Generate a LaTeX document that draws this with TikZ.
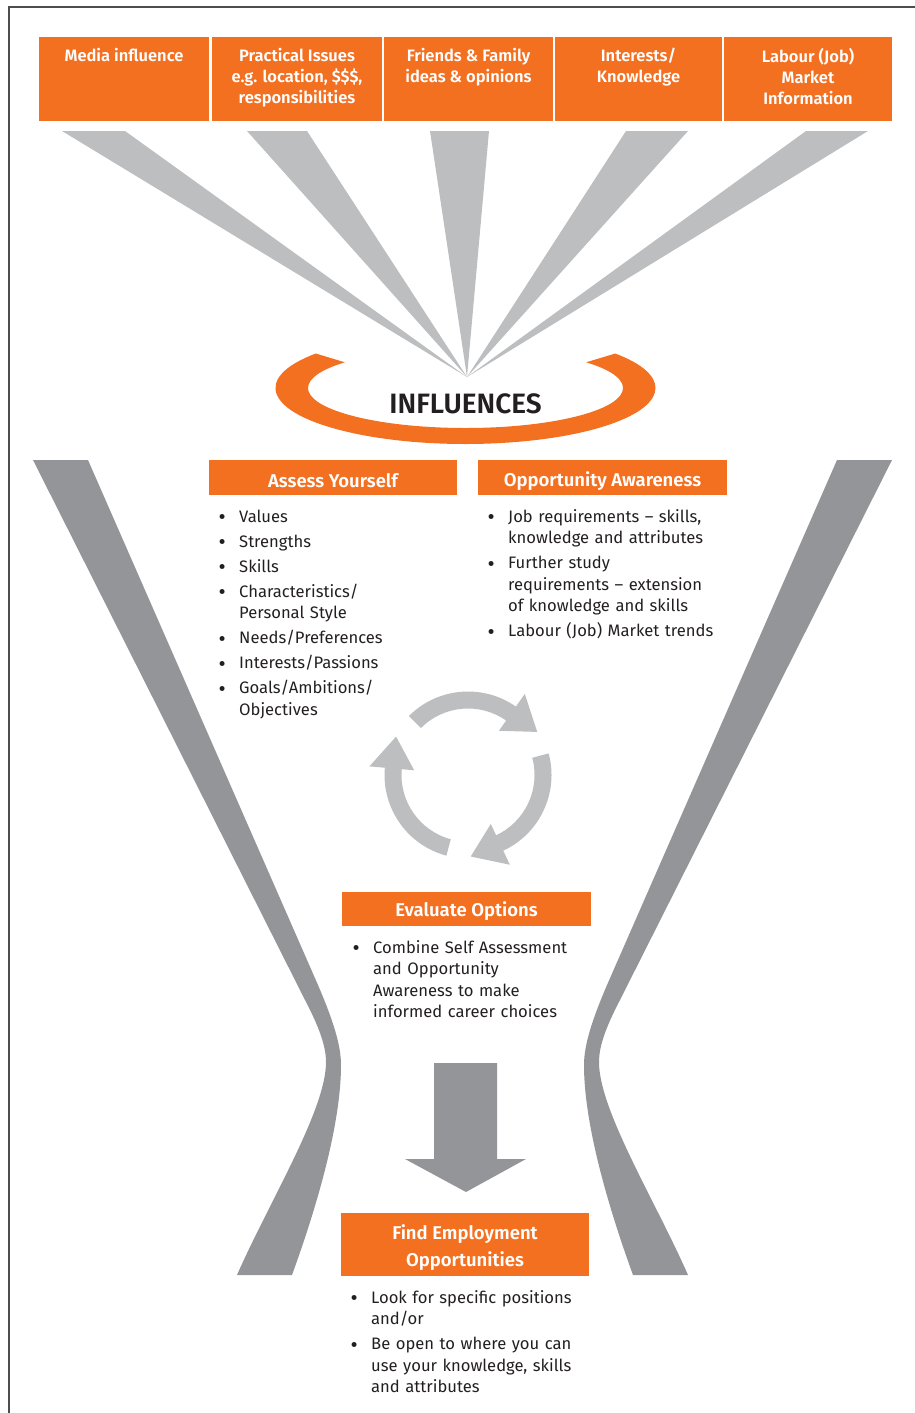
\documentclass[tikz,border=0pt]{standalone}
\usepackage{fontspec}
\setmainfont{Fira Sans}[BoldFont={Fira Sans SemiBold}]
\usetikzlibrary{calc}
\definecolor{orng}{HTML}{F37021}
\definecolor{raygray}{HTML}{BCBEC0}
\definecolor{fungray}{HTML}{939598}
\definecolor{txt}{HTML}{231F20}
\definecolor{framecol}{HTML}{4D4D4F}
\newcommand{\bit}{\par\hangindent=21pt\hangafter=1\noindent\makebox[21pt][l]{\hspace{0.5pt}\raisebox{-2.5pt}{\fontsize{22}{22}\selectfont\textbullet}}}
\begin{document}
\begin{tikzpicture}[x=1pt,y=-1pt,
  topbox/.style={fill=orng, draw=none, minimum width=#1, minimum height=84, inner sep=0},
  toptext/.style={anchor=north, inner sep=0, align=center, text=white, font=\fontsize{16.5}{21}\selectfont\bfseries},
  secbox/.style={fill=orng, draw=none, minimum width=#1, inner sep=0},
  sectext/.style={inner sep=0, align=center, text=white, font=\fontsize{18.5}{27}\selectfont\bfseries},
  listbox/.style={anchor=north west, inner sep=0, text width=#1, align=left, text=txt, font=\fontsize{16.6}{21.5}\selectfont},
  ray/.style={fill=raygray, draw=none},
  funnel/.style={fill=fungray, draw=none}]
\useasboundingbox (0,0) rectangle (915,1413);
% frame
\draw[framecol, line width=1.2] (9,1413) -- (9,7) -- (915,7);
% rays
\coordinate (focus) at (467,377);
\fill[ray] (62,131) -- (125,131) -- (focus) -- cycle;
\fill[ray] (247,131) -- (307,131) -- (focus) -- cycle;
\fill[ray] (430,131) -- (489,131) -- (focus) -- cycle;
\fill[ray] (626,131) -- (688,131) -- (focus) -- cycle;
\fill[ray] (806,131) -- (868,131) -- (focus) -- cycle;
% top boxes
\node[topbox=170] (b1) at (124,79) {};
\node[topbox=170] (b2) at (297,79) {};
\node[topbox=169] (b3) at (468.5,79) {};
\node[topbox=167] (b4) at (638.5,79) {};
\node[topbox=168] (b5) at (808,79) {};
\node[toptext] (t1) at (124,48) {Media influence};
\node[toptext] (t2) at (297,48) {Practical Issues\\e.g. location, \$\$\$,\\responsibilities};
\node[toptext] (t3) at (468.5,48) {Friends \& Family\\ideas \& opinions};
\node[toptext] (t4) at (638.5,48) {Interests/\\Knowledge};
\node[toptext] (t5) at (808,48) {Labour (Job)\\Market\\Information};
% orange ring
\fill[orng] ({465.5+190*cos(218)},{388+56*sin(218)})
  arc[start angle=218, end angle=-38, x radius=190, y radius=56]
  -- ({465.5+157.5*cos(-40)},{388+40*sin(-40)})
  arc[start angle=-40, end angle=220, x radius=157.5, y radius=40] -- cycle;
\node[text=txt, font=\fontsize{28}{32}\selectfont\bfseries] (infl) at (465.5,404) {INFLUENCES};
% funnel sides
\fill[funnel] (33,460) -- (88,460) -- (318,985) .. controls (333,1020) and (341,1045) .. (341,1065)
  .. controls (341,1130) and (312,1220) .. (292,1275) -- (237,1275)
  .. controls (270,1200) and (326,1110) .. (326,1062)
  .. controls (326,1045) and (318,1025) .. (305,1000) -- cycle;
\begin{scope}[shift={(925,0)}, xscale=-1]
\fill[funnel] (33,460) -- (88,460) -- (318,985) .. controls (333,1020) and (341,1045) .. (341,1065)
  .. controls (341,1130) and (312,1220) .. (292,1275) -- (237,1275)
  .. controls (270,1200) and (326,1110) .. (326,1062)
  .. controls (326,1045) and (318,1025) .. (305,1000) -- cycle;
\end{scope}
% section boxes
\node[secbox=248, minimum height=35] (assess) at (333,477.5) {};
\node[secbox=249, minimum height=35] (opp) at (602.5,477.5) {};
\node[secbox=249, minimum height=34] (eval) at (466.5,909) {};
\node[secbox=248, minimum height=63] (find) at (465,1244.5) {};
\node[sectext] (assesst) at (333,481) {Assess Yourself};
\node[sectext] (oppt) at (602.5,481) {Opportunity Awareness};
\node[sectext] (evalt) at (466.5,911.5) {Evaluate Options};
\node[sectext] (findt) at (465,1248) {Find Employment\\Opportunities};
% lists
\node[listbox=240] (la) at (218,497) {\setlength{\parskip}{3.5pt}%
\bit Values
\bit Strengths
\bit Skills
\bit Characteristics/\newline Personal Style
\bit Needs/Preferences
\bit Interests/Passions
\bit Goals/Ambitions/\newline Objectives\par};
\node[listbox=260] (lo) at (487,497) {\setlength{\parskip}{3.5pt}%
\bit Job requirements – skills,\newline knowledge and attributes
\bit Further study\newline requirements – extension\newline of knowledge and skills
\bit Labour (Job) Market trends\par};
\node[listbox=260] (le) at (352,928) {\setlength{\parskip}{3.5pt}%
\bit Combine Self Assessment\newline and Opportunity\newline Awareness to make\newline informed career choices\par};
\node[listbox=260] (lf) at (350,1278) {\setlength{\parskip}{3.5pt}%
\bit Look for specific positions\newline and/or
\bit Be open to where you can\newline use your knowledge, skills\newline and attributes\par};
% cycle arrows
\begin{scope}[shift={(468,775)}]
\foreach \t in {-135,-15,105}{
  \pgfmathsetmacro{\tb}{\t+80}
  \fill[raygray] (\t:66.5) arc[start angle=\t, end angle=\tb, radius=66.5]
    -- (\tb:54) -- ({75*cos(\tb)-32*sin(\tb)},{75*sin(\tb)+32*cos(\tb)})
    -- (\tb:99) -- (\tb:83.5)
    arc[start angle=\tb, end angle=\t, radius=83.5] -- cycle;
}
\end{scope}
% down arrow
\fill[funnel] (434,1063) -- (497,1063) -- (497,1159) -- (526,1159) -- (466,1192) -- (405,1159) -- (434,1159) -- cycle;
\end{tikzpicture}
\end{document}
